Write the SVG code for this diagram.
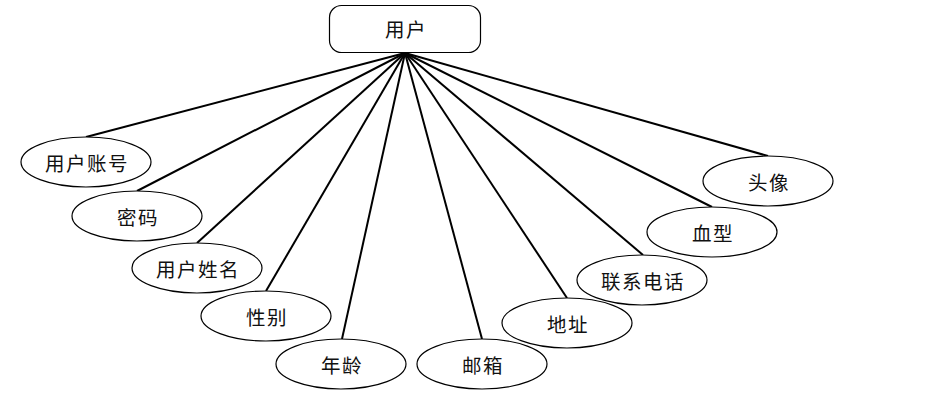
<svg xmlns="http://www.w3.org/2000/svg" width="926" height="404" viewBox="0 0 926 404">
<style>
.n{fill:#fff;stroke:#000;stroke-width:1.2}
.t{font-family:"Noto Sans CJK SC","Noto Sans",sans-serif;font-size:19.5px;letter-spacing:1.5px;fill:#111;text-anchor:middle;dominant-baseline:central}
.c line{stroke:#000;stroke-width:2}
</style>
<rect width="926" height="404" fill="#fff"/>
<g class="c" id="connectors">
<line x1="405" y1="53" x2="86" y2="137"/>
<line x1="405" y1="53" x2="137" y2="191"/>
<line x1="405" y1="53" x2="197" y2="243"/>
<line x1="405" y1="53" x2="266" y2="291"/>
<line x1="405" y1="53" x2="342" y2="339"/>
<line x1="405" y1="53" x2="482" y2="339"/>
<line x1="405" y1="53" x2="567" y2="298"/>
<line x1="405" y1="53" x2="643" y2="255"/>
<line x1="405" y1="53" x2="712" y2="207"/>
<line x1="405" y1="53" x2="768" y2="156"/>
</g>
<g id="user"><rect class="n" x="329.5" y="5.5" width="151" height="47" rx="12"/><text class="t" x="406" y="28">用户</text></g>
<g id="account"><ellipse class="n" cx="86" cy="162" rx="65" ry="25"/><text class="t" x="87" y="162">用户账号</text></g>
<g id="password"><ellipse class="n" cx="137" cy="216" rx="65" ry="25"/><text class="t" x="138" y="216">密码</text></g>
<g id="username"><ellipse class="n" cx="197" cy="268" rx="65" ry="25"/><text class="t" x="198" y="268">用户姓名</text></g>
<g id="gender"><ellipse class="n" cx="266" cy="316" rx="65" ry="25"/><text class="t" x="267" y="316">性别</text></g>
<g id="age"><ellipse class="n" cx="341" cy="364" rx="65" ry="25"/><text class="t" x="342" y="364">年龄</text></g>
<g id="email"><ellipse class="n" cx="482" cy="364" rx="65" ry="25"/><text class="t" x="483" y="364">邮箱</text></g>
<g id="address"><ellipse class="n" cx="567" cy="323" rx="65" ry="25"/><text class="t" x="568" y="323">地址</text></g>
<g id="phone"><ellipse class="n" cx="642" cy="280" rx="65" ry="25"/><text class="t" x="643" y="280">联系电话</text></g>
<g id="blood"><ellipse class="n" cx="712" cy="232" rx="65" ry="25"/><text class="t" x="713" y="232">血型</text></g>
<g id="avatar"><ellipse class="n" cx="768" cy="181" rx="65" ry="25"/><text class="t" x="769" y="181">头像</text></g>
</svg>
